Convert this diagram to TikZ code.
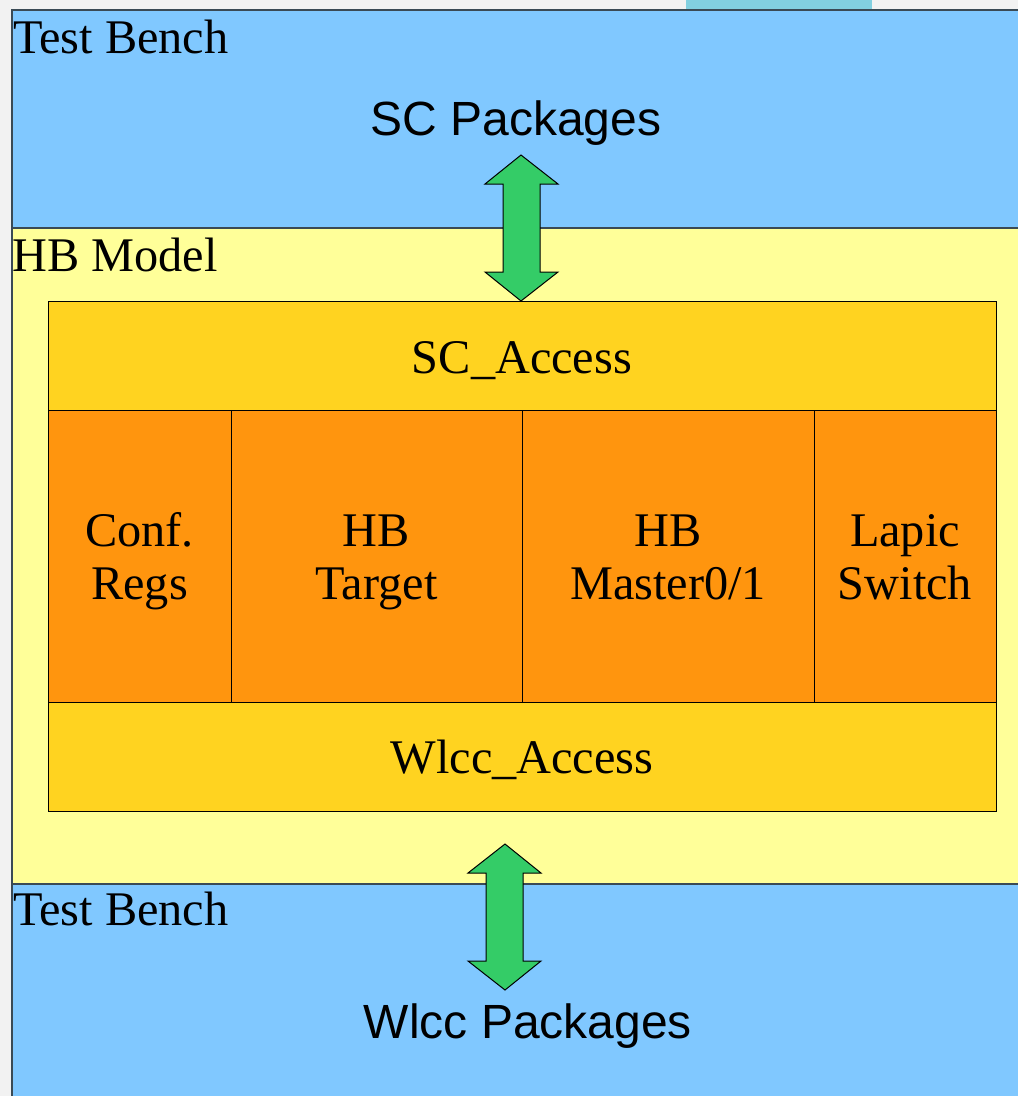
\documentclass[tikz,border=0pt]{standalone}
\usepackage{fontspec}
\setmainfont{Liberation Serif}
\newfontfamily\sansf{Liberation Sans}
\definecolor{bgray}{HTML}{F2F2F2}
\definecolor{tabc}{HTML}{82D0E0}
\definecolor{bandblue}{HTML}{80C8FF}
\definecolor{bandyellow}{HTML}{FFFF99}
\definecolor{gold}{HTML}{FFD320}
\definecolor{orng}{HTML}{FF950E}
\definecolor{arrgreen}{HTML}{34CC67}
\definecolor{edge}{HTML}{3A4A55}
\tikzset{
  band/.style={draw=edge, line width=1.2pt, inner sep=0pt, outer sep=0pt},
  blk/.style={draw=black, line width=1pt, inner sep=0pt, outer sep=0pt},
  txt/.style={anchor=base, inner sep=0pt, align=center,
    font=\fontsize{48.3}{53}\selectfont},
  lbl/.style={anchor=base west, inner sep=0pt, font=\fontsize{48.3}{53}\selectfont},
  pkg/.style={anchor=base, inner sep=0pt, font=\sansf\fontsize{48}{53}\selectfont},
  barrow/.style={fill=arrgreen, draw=black, line width=1pt, line join=miter}
}
\begin{document}
\begin{tikzpicture}[x=1pt,y=-1pt]
\useasboundingbox (0,0) rectangle (1018,1096);
\fill[bgray] (0,0) rectangle (1018,1096);
\fill[tabc] (686,0) rectangle (872,10);
% bands
\node[band, fill=bandblue, minimum width=1030, minimum height=218, anchor=north west] (tbtop) at (12,10) {};
\node[band, fill=bandyellow, minimum width=1030, minimum height=656, anchor=north west] (hbm) at (12,228) {};
\node[band, fill=bandblue, minimum width=1030, minimum height=230, anchor=north west] (tbbot) at (12,884) {};
\node[lbl] (ltb1) at (13,53) {Test Bench};
\node[lbl] (lhb) at (12,271) {HB Model};
\node[lbl] (ltb2) at (13,925) {Test Bench};
\node[pkg] (scp) at (516,135) {SC Packages};
\node[pkg] (wlp) at (528,1038) {Wlcc Packages};
% inner blocks
\node[blk, fill=gold, minimum width=948, minimum height=109, anchor=north west] (sca) at (48,301) {};
\node[blk, fill=orng, minimum width=183, minimum height=292, anchor=north west] (conf) at (48,410) {};
\node[blk, fill=orng, minimum width=291, minimum height=292, anchor=north west] (tgt) at (231,410) {};
\node[blk, fill=orng, minimum width=292, minimum height=292, anchor=north west] (mst) at (522,410) {};
\node[blk, fill=orng, minimum width=182, minimum height=292, anchor=north west] (lap) at (814,410) {};
\node[blk, fill=gold, minimum width=948, minimum height=109, anchor=north west] (wla) at (48,702) {};
\node[txt] (tsca) at (522,373) {SC\_Access};
\node[txt] (tconf) at (139.5,599) {Conf.\\Regs};
\node[txt] (ttgt) at (376.5,599) {HB\\Target};
\node[txt] (tmst) at (668,599) {HB\\Master0/1};
\node[txt] (tlap) at (905,599) {Lapic\\Switch};
\node[txt] (twla) at (522,773) {Wlcc\_Access};
% block arrows
\draw[barrow] (521,155) -- (558,184) -- (540,184) -- (540,272) -- (558,272) -- (521,301)
  -- (485,272) -- (503,272) -- (503,184) -- (485,184) -- cycle;
\draw[barrow] (505,844) -- (541,873) -- (523,873) -- (523,961) -- (541,961) -- (505,990)
  -- (468,961) -- (486,961) -- (486,873) -- (468,873) -- cycle;
\end{tikzpicture}
\end{document}
